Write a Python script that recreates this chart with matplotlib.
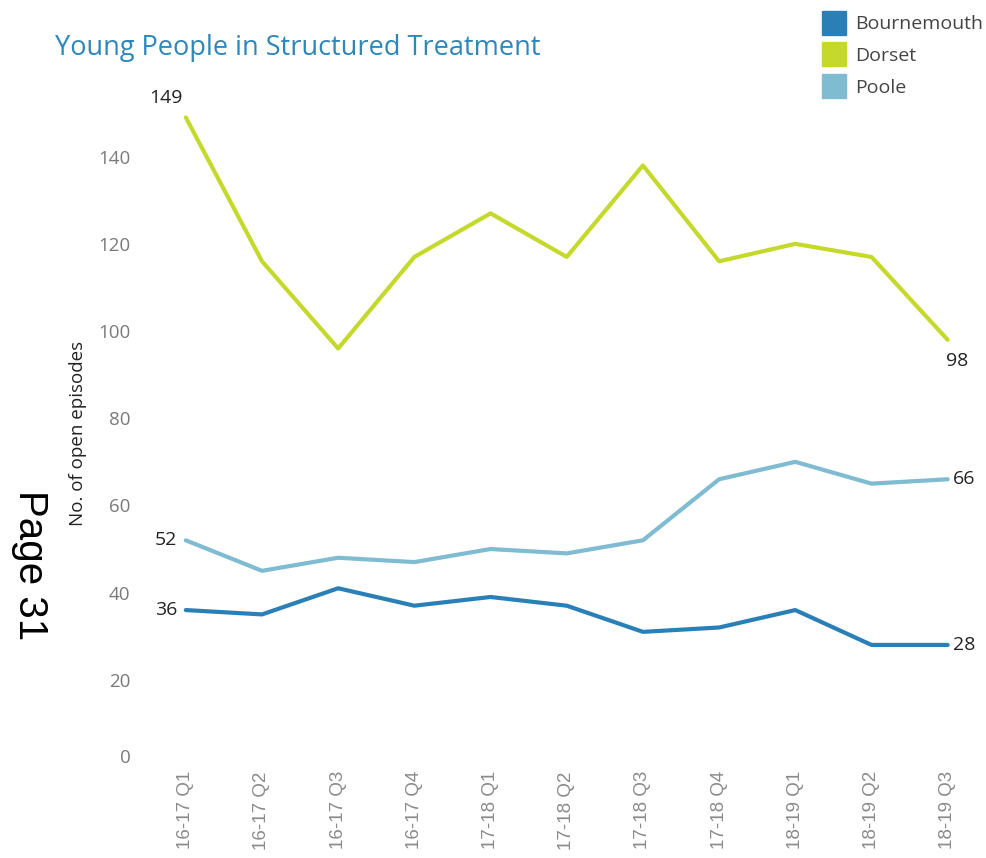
import matplotlib
matplotlib.use("Agg")
import matplotlib.pyplot as plt
from matplotlib.lines import Line2D

quarters = ["16-17 Q1", "16-17 Q2", "16-17 Q3", "16-17 Q4", "17-18 Q1", "17-18 Q2",
            "17-18 Q3", "17-18 Q4", "18-19 Q1", "18-19 Q2", "18-19 Q3"]
bournemouth = [36, 35, 41, 37, 39, 37, 31, 32, 36, 28, 28]
dorset = [149, 116, 96, 117, 127, 117, 138, 116, 120, 117, 98]
poole = [52, 45, 48, 47, 50, 49, 52, 66, 70, 65, 66]
y_ticks = [0, 20, 40, 60, 80, 100, 120, 140]

c_bou = "#2a80b6"
c_dor = "#c5d92c"
c_poo = "#7fbbd1"

plt.rcParams['font.family'] = ['Open Sans', 'DejaVu Sans']

fig = plt.figure(figsize=(9.86, 8.58), dpi=100)
ax = fig.add_axes([150/986, 91/858, 835/986, 667/858])

x = list(range(len(quarters)))
ax.plot(x, bournemouth, color=c_bou, lw=3, solid_capstyle='round')
ax.plot(x, dorset, color=c_dor, lw=3, solid_capstyle='round')
ax.plot(x, poole, color=c_poo, lw=3, solid_capstyle='round')

ax.set_xlim(-0.47, 10.49)
ax.set_ylim(0, 153)

for s in ax.spines.values():
    s.set_visible(False)

ax.set_yticks(y_ticks)
ax.set_yticklabels([str(v) for v in y_ticks])
ax.tick_params(axis='y', length=0, pad=14, labelsize=13.5, labelcolor='#7a7a7a')
ax.get_yticklabels()[0].set_va('bottom')
ax.set_xticks(x)
ax.set_xticklabels(quarters, rotation=90, family='Liberation Sans', fontsize=13.5, color='#8a8a8a')
ax.tick_params(axis='x', length=0, pad=3)

ax.set_ylabel("No. of open episodes", fontsize=13.5, color='#222222', labelpad=8)

# data labels at the ends
lab = dict(fontsize=14, color='#222222')
ax.annotate(str(dorset[0]), (0, dorset[0]), xytext=(-14, 14), textcoords='offset points', ha='center', va='center', **lab)
ax.annotate(str(poole[0]), (0, poole[0]), xytext=(-6, 0), textcoords='offset points', ha='right', va='center', **lab)
ax.annotate(str(bournemouth[0]), (0, bournemouth[0]), xytext=(-6, 0), textcoords='offset points', ha='right', va='center', **lab)
ax.annotate(str(dorset[-1]), (10, dorset[-1]), xytext=(7, -15), textcoords='offset points', ha='center', va='center', **lab)
ax.annotate(str(poole[-1]), (10, poole[-1]), xytext=(4, 0), textcoords='offset points', ha='left', va='center', **lab)
ax.annotate(str(bournemouth[-1]), (10, bournemouth[-1]), xytext=(4, 0), textcoords='offset points', ha='left', va='center', **lab)

fig.text(55/986, 1 - 48/858, "Young People in Structured Treatment", fontsize=19.5,
         color='#2f86b9', ha='left', va='center')

fig.text(30/986, 1 - 565/858, "Page 31", rotation=270, fontsize=29, family='Liberation Sans',
         color='black', ha='center', va='center')

handles = [Line2D([], [], marker='s', ls='', markersize=17, color=c) for c in (c_bou, c_dor, c_poo)]
fig.legend(handles, ["Bournemouth", "Dorset", "Poole"], loc='upper left',
           bbox_to_anchor=(797/986, 1 + 2/858), frameon=False, fontsize=14,
           handletextpad=0.1, labelspacing=0.7, labelcolor='#444444')

fig.savefig("out.png", dpi=100)
